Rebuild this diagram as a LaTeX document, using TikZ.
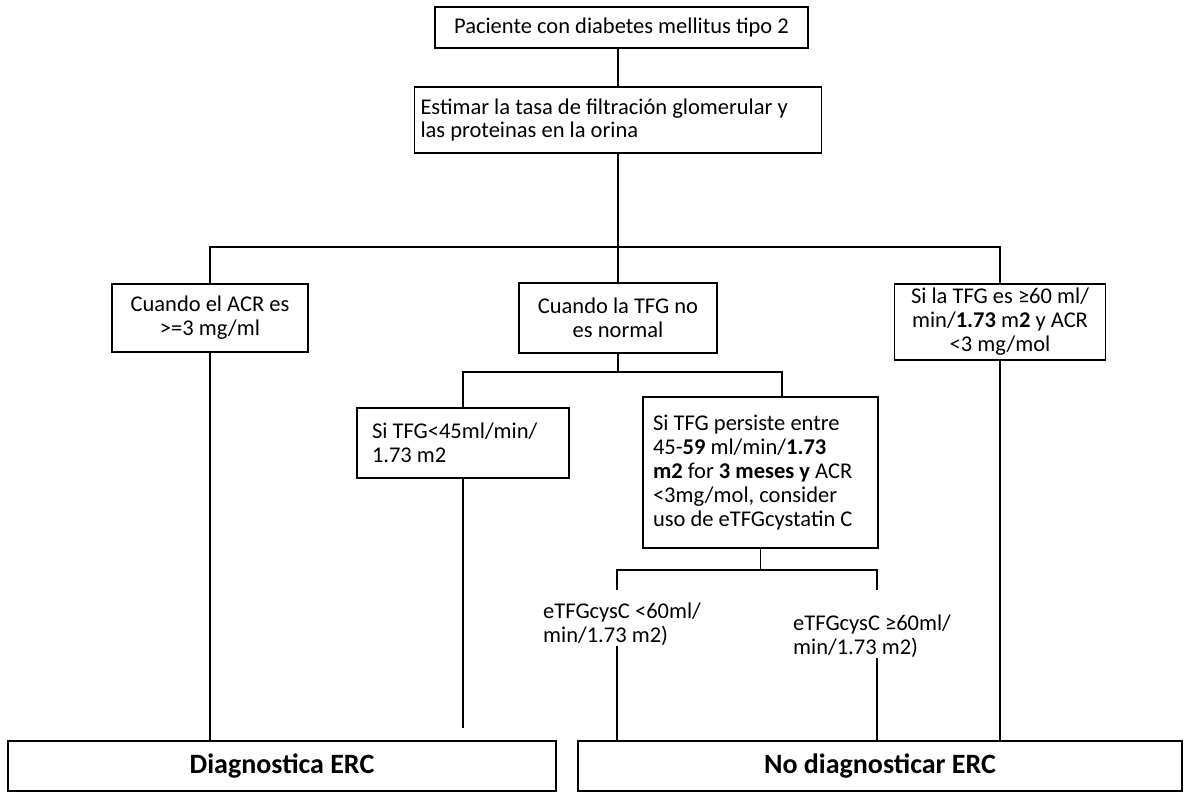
\documentclass[tikz,border=0pt]{standalone}
\usepackage{fontspec}
\setmainfont{Carlito}
\newcommand\txtfont{\fontsize{22.5}{24}\selectfont}
\newcommand\bigfont{\fontsize{28}{32}\selectfont\bfseries}
\begin{document}
\begin{tikzpicture}[x=1pt,y=-1pt,
  box/.style={draw, line width=1.3pt, inner sep=0pt, font=\txtfont, align=center},
  lbox/.style={box, align=flush left},
  lbl/.style={inner sep=0pt, font=\txtfont, align=flush left, anchor=west},
  endbox/.style={draw, line width=1.3pt, inner sep=0pt, font=\bigfont},
  conn/.style={line width=1.3pt}]
\fill[white] (0,0) rectangle (1185,795);
\useasboundingbox (0,0) rectangle (1185,795);

\node[box, minimum width=373pt, minimum height=41pt] (n1) at (621.5,27.5)
  {Paciente con diabetes mellitus tipo 2};
\node[lbox, minimum width=407pt, minimum height=66pt, text width=395pt] (n2) at (618,120)
  {Estimar la tasa de filtración glomerular y\\las proteinas en la orina};

\node[box, minimum width=196pt, minimum height=68pt] (acr) at (210,318)
  {Cuando el ACR es\\>=3 mg/ml};
\node[box, minimum width=198pt, minimum height=70pt] (tfg) at (618,318)
  {Cuando la TFG no\\es normal};
\node[box, minimum width=211pt, minimum height=76pt] (right) at (1000,322)
  {Si la TFG es ≥60 ml/\\min/\textbf{1.73} m\textbf{2} y ACR\\<3 mg/mol};

\node[lbox, minimum width=212pt, minimum height=70pt, text width=182pt] (lt45) at (463,443)
  {Si TFG<45ml/min/\\1.73 m2};
\node[lbox, minimum width=235pt, minimum height=151pt, text width=215pt] (pers) at (760.5,472.5)
  {Si TFG persiste entre\\45-\textbf{59} ml/min/\textbf{1.73}\\\textbf{m2} for \textbf{3 meses y} ACR\\<3mg/mol, consider\\uso de eTFGcystatin C};

\node[lbl] (lt60) at (543,624) {eTFGcysC <60ml/\\min/1.73 m2)};
\node[lbl] (ge60) at (793,636) {eTFGcysC ≥60ml/\\min/1.73 m2)};

\node[endbox, minimum width=548pt, minimum height=50pt] (diag) at (282,766) {Diagnostica ERC};
\node[endbox, minimum width=604pt, minimum height=50pt] (nodiag) at (880,766) {No diagnosticar ERC};

\coordinate (h1) at (618,247);
\coordinate (h2) at (618,372);
\coordinate (h3) at (760.5,570);
\coordinate (c1) at (617,590);
\coordinate (c2) at (877,590);
\coordinate (e45) at (463,728);

\draw[conn] (n1.south -| n2.north) -- (n2.north);
\draw[conn] (n2.south) -- (tfg.north);
\draw[conn] (acr.north) |- (h1) -| (right.north);
\draw[conn] (tfg.south) -- (h2);
\draw[conn] (lt45.north) |- (h2) -| ([xshift=21.5pt]pers.north);
\draw[conn] (pers.south) -- (h3);
\draw[conn] (c1) |- (h3) -| (c2);
\draw[conn] (acr.south) -- (acr.south |- diag.north);
\draw[conn] (lt45.south) -- (e45);
\draw[conn] (lt60.south -| c1) -- (c1 |- nodiag.north);
\draw[conn] (ge60.south -| c2) -- (c2 |- nodiag.north);
\draw[conn] (right.south) -- (right.south |- nodiag.north);
\end{tikzpicture}
\end{document}
